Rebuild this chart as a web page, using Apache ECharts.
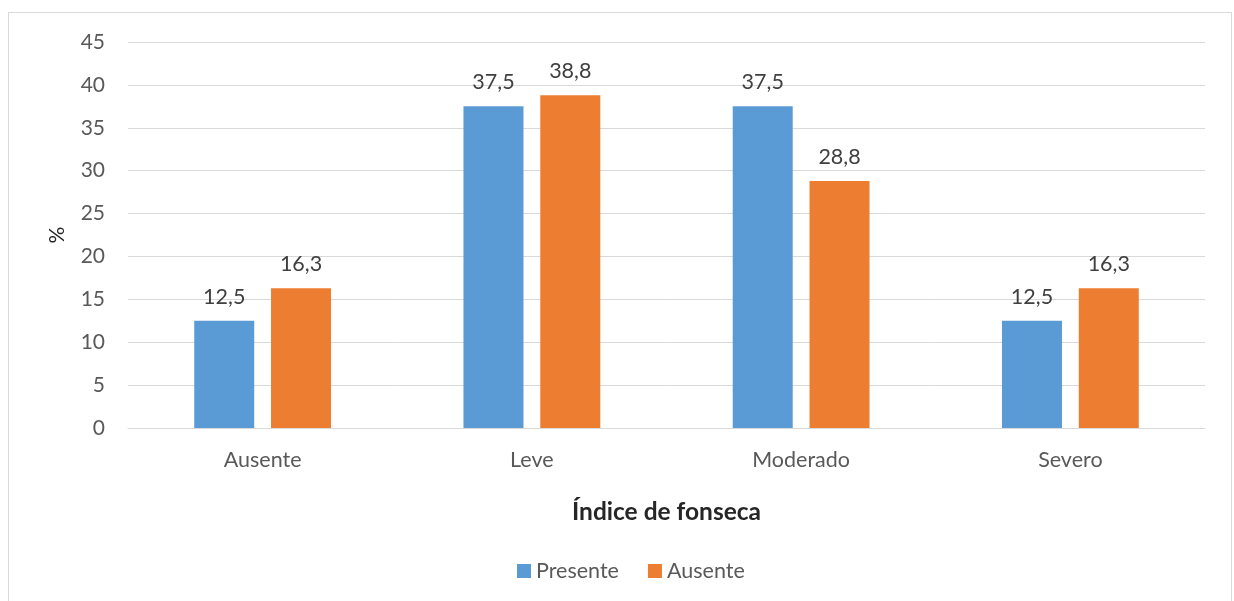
<!DOCTYPE html>
<html>
<head>
<meta charset="utf-8">
<script src="https://cdn.jsdelivr.net/npm/echarts@6/dist/echarts.min.js"></script>
<style>
    body { margin: 0; background: #fff; }
    .frame { position: absolute; left: 8px; top: 12px; width: 1224px; height: 620px; border: 1px solid #d9d9d9; box-sizing: border-box; }
    .chart { position: absolute; left: 0; top: 0; width: 1234px; height: 601px; }
</style>
</head>
<body>
<div class="frame"></div>
<div class="chart"></div>
<script>
var categorias = ['Ausente', 'Leve', 'Moderado', 'Severo']
var presente = [12.5, 37.5, 37.5, 12.5]
var ausente = [16.3, 38.8, 28.8, 16.3]
var yTicks = [0, 5, 10, 15, 20, 25, 30, 35, 40, 45]

var chart = echarts.init(document.querySelector('.chart'), null, { renderer: 'canvas' })

var fonte = 'Lato, "Open Sans", sans-serif'

function rotulo(p) {
    return p.value.toFixed(1).replace('.', ',')
}

chart.setOption({
    animation: false,
    textStyle: { fontFamily: fonte },
    legend: {
        top: 555,
        left: 512,
        icon: 'rect',
        itemWidth: 14,
        itemHeight: 14,
        itemGap: 29,
        textStyle: { color: '#595959', fontSize: 21.5, fontFamily: fonte }
    },
    grid: {
        left: 128,
        right: 29,
        top: 42,
        bottom: 173
    },
    xAxis: {
        type: 'category',
        data: categorias,
        axisLine: { lineStyle: { color: '#d9d9d9', width: 1 } },
        axisTick: { show: false },
        axisLabel: { color: '#595959', fontSize: 21.5, margin: 21, fontFamily: fonte },
        name: 'Índice de fonseca',
        nameLocation: 'middle',
        nameGap: 72,
        nameTextStyle: { color: '#262626', fontSize: 24.5, fontWeight: 'bold', fontFamily: fonte }
    },
    yAxis: {
        type: 'value',
        min: yTicks[0],
        max: yTicks[yTicks.length - 1],
        interval: 5,
        axisLine: { show: false },
        axisTick: { show: false },
        splitLine: { lineStyle: { color: '#d9d9d9', width: 1 } },
        axisLabel: { color: '#595959', fontSize: 21, margin: 23, fontFamily: fonte },
        name: '%',
        nameLocation: 'middle',
        nameRotate: 90,
        nameGap: 60,
        nameTextStyle: { color: '#262626', fontSize: 21, fontFamily: fonte }
    },
    series: [
        {
            name: 'Presente',
            type: 'bar',
            data: presente,
            barWidth: 60,
            barGap: '28%',
            itemStyle: { color: '#5b9bd5' },
            label: {
                show: true,
                position: 'top',
                distance: 13,
                color: '#404040',
                fontSize: 21.5,
                fontFamily: fonte,
                formatter: rotulo
            }
        },
        {
            name: 'Ausente',
            type: 'bar',
            data: ausente,
            barWidth: 60,
            barGap: '28%',
            itemStyle: { color: '#ed7d31' },
            label: {
                show: true,
                position: 'top',
                distance: 13,
                color: '#404040',
                fontSize: 21.5,
                fontFamily: fonte,
                formatter: rotulo
            }
        }
    ]
})
</script>
</body>
</html>
